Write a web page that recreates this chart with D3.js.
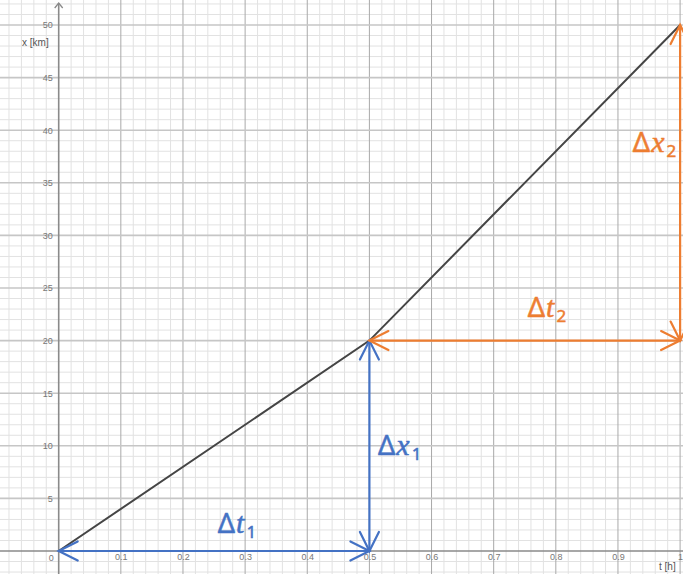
<!DOCTYPE html>
<html>
<head>
<meta charset="utf-8">
<script src="https://cdn.jsdelivr.net/npm/d3@7/dist/d3.min.js"></script>
<style>
  html, body { margin: 0; padding: 0; background: #fff; }
  svg { display: block; }
</style>
</head>
<body>
<svg id="chart" width="683" height="574"></svg>
<script>
// Position–time graph: x [km] against t [h]
const times = [0, 0.5, 1];
const positions = [0, 20, 50];

const tTicks = [0.1, 0.2, 0.3, 0.4, 0.5, 0.6, 0.7, 0.8, 0.9, 1];
const tTickLabels = ["0.1", "0.2", "0.3", "0.4", "0.5", "0.6", "0.7", "0.8", "0.9", "1"];
const xTicks = [5, 10, 15, 20, 25, 30, 35, 40, 45, 50];
const xTickLabels = ["5", "10", "15", "20", "25", "30", "35", "40", "45", "50"];

// Interval arrows: start/end points in (t, x)
const deltaNames = ["t", "x", "t", "x"];
const deltaIndex = ["1", "1", "2", "2"];
const deltaFrom = [[0, 0], [0.5, 0], [0.5, 20], [1, 20]];
const deltaTo = [[0.5, 0], [0.5, 20], [1, 20], [1, 50]];
// Where each Δ label sits (t, x of the text baseline start)
const deltaLabelAt = [[0.256, 1.7], [0.514, 9.1], [0.755, 22.2], [0.924, 37.9]];

const W = 683, H = 574;
const svg = d3.select("#chart");

const x = d3.scaleLinear().domain([0, 1]).range([58.7, 680.1]);
const y = d3.scaleLinear().domain([0, 50]).range([551, 25]);

const tMin = x.invert(0), tMax = x.invert(W);
const kmMin = y.invert(H), kmMax = y.invert(0);

// Grid
const grid = svg.append("g");
const minorT = d3.range(Math.ceil(tMin / 0.02) * 0.02, tMax + 1e-9, 0.02)
  .filter(v => Math.abs(Math.round(v * 10) - v * 10) > 1e-6);
const majorT = d3.range(Math.ceil(tMin / 0.1) * 0.1, tMax + 1e-9, 0.1)
  .filter(v => Math.abs(v) > 1e-6);
const minorKm = d3.range(Math.ceil(kmMin), kmMax + 1e-9, 1).filter(v => v % 5 !== 0);
const majorKm = d3.range(Math.ceil(kmMin / 5) * 5, kmMax + 1e-9, 5).filter(v => v !== 0);

grid.selectAll(".mt").data(minorT).join("line")
  .attr("x1", d => x(d)).attr("x2", d => x(d)).attr("y1", 0).attr("y2", H)
  .attr("stroke", "#e2e2e2").attr("stroke-width", 1);
grid.selectAll(".mk").data(minorKm).join("line")
  .attr("x1", 0).attr("x2", W).attr("y1", d => y(d)).attr("y2", d => y(d))
  .attr("stroke", "#e2e2e2").attr("stroke-width", 1);
grid.selectAll(".Mt").data(majorT).join("line")
  .attr("x1", d => x(d)).attr("x2", d => x(d)).attr("y1", 0).attr("y2", H)
  .attr("stroke", "#a9a9a9").attr("stroke-width", 1);
grid.selectAll(".Mk").data(majorKm).join("line")
  .attr("x1", 0).attr("x2", W).attr("y1", d => y(d)).attr("y2", d => y(d))
  .attr("stroke", "#c6c6c6").attr("stroke-width", 1.6);

// Axes
const axisColor = "#8a8a8a";
svg.append("line").attr("x1", 0).attr("x2", W).attr("y1", y(0)).attr("y2", y(0))
  .attr("stroke", axisColor).attr("stroke-width", 1.6);
svg.append("line").attr("x1", x(0)).attr("x2", x(0)).attr("y1", 3).attr("y2", H)
  .attr("stroke", axisColor).attr("stroke-width", 1.6);
svg.append("path")
  .attr("d", `M${x(0) - 4},${8} L${x(0)},${3} L${x(0) + 4},${8}`)
  .attr("fill", "none").attr("stroke", axisColor).attr("stroke-width", 1.3);

const tickFont = "Liberation Sans, Arial, sans-serif";
const bottomAxis = d3.axisBottom(x).tickValues(tTicks).tickSize(0).tickPadding(3)
  .tickFormat((d, i) => tTickLabels[i]);
const gb = svg.append("g").attr("transform", `translate(0,${y(0)})`).call(bottomAxis);
gb.select(".domain").remove();
gb.selectAll("text").attr("font-family", tickFont).attr("font-size", 9).attr("fill", "#777");

const leftAxis = d3.axisLeft(y).tickValues(xTicks).tickSize(0).tickPadding(6)
  .tickFormat((d, i) => xTickLabels[i]);
const gl = svg.append("g").attr("transform", `translate(${x(0)},0)`).call(leftAxis);
gl.select(".domain").remove();
gl.selectAll("text").attr("font-family", tickFont).attr("font-size", 9).attr("fill", "#777");

svg.append("text").attr("x", x(0) - 5).attr("y", y(0) + 10)
  .attr("text-anchor", "end").attr("font-family", tickFont).attr("font-size", 9)
  .attr("fill", "#777").text("0");

svg.append("text").attr("x", 22).attr("y", 46)
  .attr("font-family", tickFont).attr("font-size", 10).attr("fill", "#555").text("x [km]");
svg.append("text").attr("x", 659).attr("y", 570)
  .attr("font-family", tickFont).attr("font-size", 10).attr("fill", "#555").text("t [h]");

// Position graph
const line = d3.line().x(d => x(d[0])).y(d => y(d[1]));
svg.append("path").datum(times.map((t, i) => [t, positions[i]]))
  .attr("d", line).attr("fill", "none").attr("stroke", "#454545").attr("stroke-width", 2);

// Δ arrows with open heads at both ends
const colors = ["#4472c4", "#4472c4", "#ed7d31", "#ed7d31"];
const headLen = 19, headHalf = 9.5;
function head(px, py, dx, dy) {
  // tip at (px,py), pointing in direction (dx,dy)
  const L = Math.hypot(dx, dy), ux = dx / L, uy = dy / L;
  const bx = px - ux * headLen, by = py - uy * headLen;
  return `M${bx - uy * headHalf},${by + ux * headHalf} L${px},${py} L${bx + uy * headHalf},${by - ux * headHalf}`;
}
deltaFrom.forEach((f, i) => {
  const x1 = x(f[0]), y1 = y(f[1]), x2 = x(deltaTo[i][0]), y2 = y(deltaTo[i][1]);
  const g = svg.append("g").attr("stroke", colors[i]).attr("fill", "none")
    .attr("stroke-width", 2.2).attr("stroke-linecap", "round");
  g.append("line").attr("x1", x1).attr("y1", y1).attr("x2", x2).attr("y2", y2);
  g.append("path").attr("d", head(x2, y2, x2 - x1, y2 - y1));
  g.append("path").attr("d", head(x1, y1, x1 - x2, y1 - y2));

  const lab = svg.append("text")
    .attr("x", x(deltaLabelAt[i][0])).attr("y", y(deltaLabelAt[i][1]))
    .attr("fill", colors[i]).attr("stroke", colors[i]).attr("stroke-width", 0.5);
  lab.append("tspan").attr("font-family", "Noto Sans, DejaVu Sans, sans-serif")
    .attr("font-size", 27).text("Δ");
  lab.append("tspan").attr("font-family", "Liberation Serif, DejaVu Serif, serif")
    .attr("font-style", "italic").attr("font-size", 30).attr("dx", 1).text(deltaNames[i]);
  lab.append("tspan").attr("font-family", "Noto Sans, DejaVu Sans, sans-serif")
    .attr("font-size", 17).attr("dx", 2).attr("dy", 5).text(deltaIndex[i]);
});
</script>
</body>
</html>
